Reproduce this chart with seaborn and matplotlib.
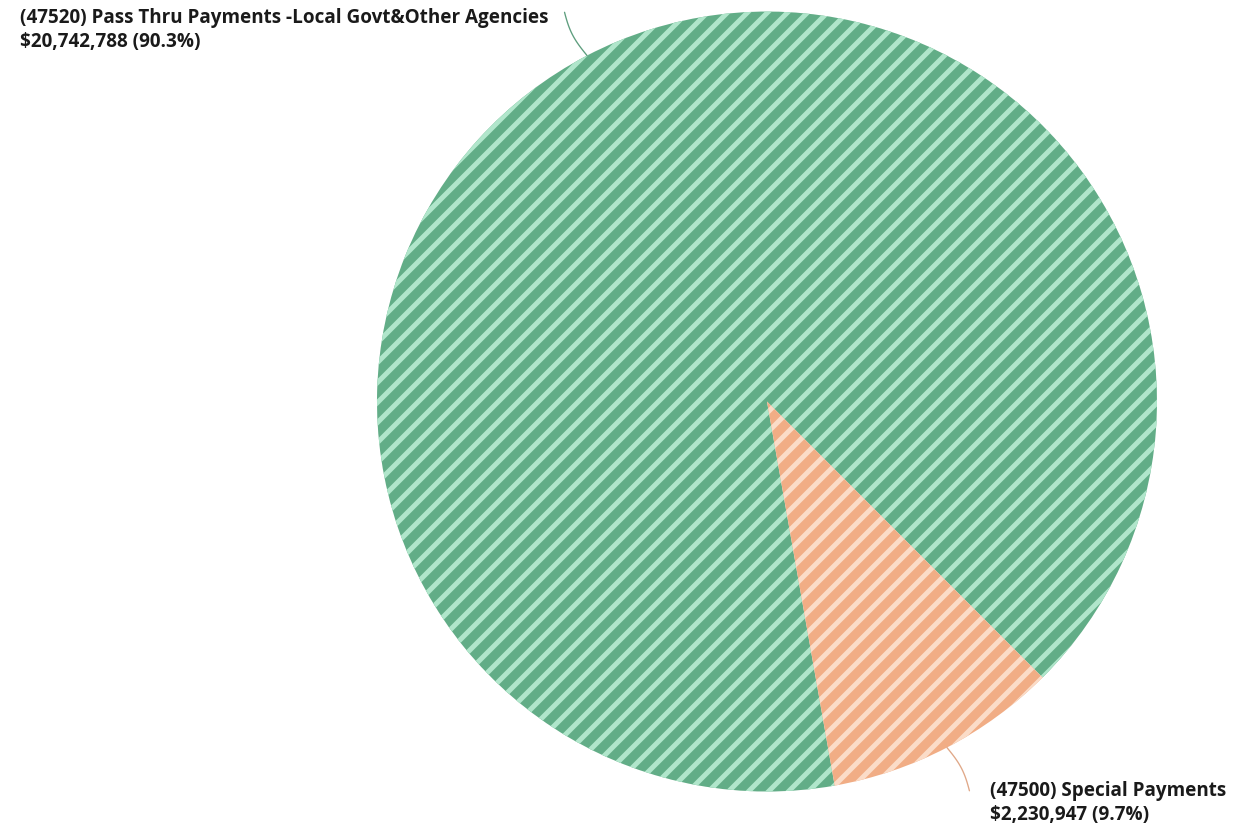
import matplotlib
matplotlib.use("Agg")
import matplotlib.pyplot as plt
import seaborn as sns
import numpy as np

sns.set_theme(style="white")
plt.rcParams['font.family'] = ['Open Sans', 'DejaVu Sans']
plt.rcParams['hatch.linewidth'] = 3.0

categories = ["(47520) Pass Thru Payments -Local Govt&Other Agencies", "(47500) Special Payments"]
values = [20742788, 2230947]
percents = ["90.3%", "9.7%"]
base_colors = ["#62ad87", "#f1ad85"]
stripe_colors = ["#b0e6cb", "#fbdcc8"]

fig = plt.figure(figsize=(1245/120, 824/120), dpi=120)
ax = fig.add_axes([0.3028, 0.0394, 0.6265, 0.9466])

wedges, _ = ax.pie(values, colors=base_colors, startangle=-80, counterclock=False,
                   radius=1.0, wedgeprops=dict(linewidth=0))
for w, sc in zip(wedges, stripe_colors):
    w.set_edgecolor(sc)
    w.set_hatch('//')
    w.set_linewidth(0)
ax.set_xlim(-1, 1)
ax.set_ylim(-1, 1)
ax.set_aspect('equal')
ax.axis('off')

# connectors (nearly radial, slight curve)
text_pos = [(20, 30), (990, 803)]
t = np.linspace(0, 1, 20)
for w, lc in zip(wedges, ["#5e9e7e", "#e0a888"]):
    mid = np.deg2rad((w.theta1 + w.theta2) / 2)
    r = 1.0 + 0.125 * t
    ang = mid + 0.008 * np.sin(np.pi * t)
    ax.plot(r * np.cos(ang), r * np.sin(ang), color=lc, lw=0.8, clip_on=False)

for (name, val, pct), (tx, ty) in zip(zip(categories, values, percents), text_pos):
    fig.text(tx / 1245, 1 - ty / 824, f"{name}\n${val:,} ({pct})",
             ha='left', va='center', fontsize=11.3, fontweight='bold',
             color='#1a1a1a', linespacing=1.3)

fig.savefig("out.png", dpi=120)
